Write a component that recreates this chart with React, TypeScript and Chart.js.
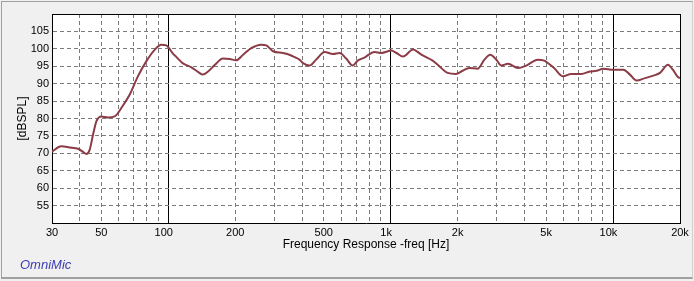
import React, { useEffect, useRef } from 'react';
import { Chart, registerables } from 'chart.js';

Chart.register(...registerables);

// Frequency response data
const freqHz = [
  30, 33, 36, 39.3, 41.4, 42.8, 44.3, 45.9, 47.5, 50, 53.6, 57.4, 61.5, 67, 73, 79.6, 86.8, 93, 98,
  101, 105, 108.6, 116, 127, 136, 143, 151, 162, 176, 189, 202, 217, 236, 262, 276, 296, 328, 357,
  370, 389, 404, 432, 462, 505, 550, 590, 631, 675, 711, 762, 846, 909, 1008, 1062, 1137, 1261,
  1350, 1395, 1545, 1655, 1803, 1965, 2106, 2256, 2460, 2640, 2805, 2985, 3144, 3369, 3735, 4068,
  4590, 4908, 5070, 5430, 5955, 6480, 7200, 7860, 8430, 9024, 10020, 11130, 11910, 12750, 13920,
  15180, 16260, 17640, 18570, 19560, 20000,
];
const splDb = [
  70.5, 72.0, 71.7, 71.3, 70.4, 69.8, 71.0, 75.4, 79.2, 80.6, 80.3, 80.6, 83.0, 86.8, 92.1, 96.4,
  99.7, 101.2, 101.0, 100.1, 98.6, 97.7, 95.9, 94.7, 93.4, 92.6, 93.5, 95.4, 97.2, 97.1, 96.7, 98.3,
  100.2, 101.2, 101.0, 99.3, 98.8, 98.1, 97.6, 96.9, 95.9, 95.2, 96.9, 99.1, 98.5, 98.8, 97.2, 95.2,
  96.6, 97.5, 99.1, 98.8, 99.5, 98.8, 97.8, 99.8, 98.7, 98.1, 96.6, 95.0, 93.1, 92.8, 93.7, 94.5,
  94.3, 96.9, 98.3, 96.9, 95.2, 95.7, 94.5, 95.2, 96.9, 96.6, 96.0, 94.5, 92.1, 92.8, 92.8, 93.5,
  93.7, 94.3, 94.0, 94.0, 92.6, 90.9, 91.6, 92.3, 93.1, 95.4, 94.0, 91.9, 91.6,
];

// Axis ticks
const xMin = 30;
const xMax = 20000;
const xGridFreqs = [
  30, 40, 50, 60, 70, 80, 90, 100, 200, 300, 400, 500, 600, 700, 800, 900, 1000, 2000, 3000, 4000,
  5000, 6000, 7000, 8000, 9000, 10000, 20000,
];
const decadeFreqs = [100, 1000, 10000];
const labeledFreqs = [30, 50, 100, 200, 500, 1000, 2000, 5000, 10000, 20000];
const labeledTexts = ['30', '50', '100   ', '200', '500', '1k   ', '2k', '5k', '10k   ', '20k'];
const yMin = 50;
const yMax = 110;
const yStep = 5;

const areaBg = {
  id: 'areaBg',
  beforeDraw(chart: any) {
    const { ctx, chartArea } = chart;
    ctx.save();
    ctx.fillStyle = '#ffffff';
    ctx.fillRect(chartArea.left, chartArea.top, chartArea.width, chartArea.height);
    ctx.restore();
  },
};

const DASH = [4, 3];
const GRID_GRAY = '#7a7a7a';
const CLEAR = 'rgba(0,0,0,0)';

export default function App() {
  const canvasRef = useRef<HTMLCanvasElement | null>(null);

  useEffect(() => {
    document.body.style.margin = '0';
    const canvas = canvasRef.current;
    if (!canvas) return;
    Chart.defaults.font.family = '"Liberation Sans", Arial, sans-serif';
    Chart.defaults.color = '#000000';

    const points = freqHz.map((f, i) => ({ x: f, y: splDb[i] }));

    const chart = new Chart(canvas, {
      type: 'line',
      data: {
        datasets: [
          {
            data: points,
            borderColor: '#8b3c46',
            borderWidth: 2,
            pointRadius: 0,
            cubicInterpolationMode: 'monotone',
            fill: false,
          },
        ],
      },
      plugins: [areaBg],
      options: {
        responsive: false,
        animation: false,
        events: [],
        layout: { padding: { left: 15, top: 14, right: 14, bottom: 29 } },
        plugins: { legend: { display: false }, tooltip: { enabled: false } },
        scales: {
          x: {
            type: 'logarithmic',
            position: 'bottom',
            min: xMin,
            max: xMax,
            afterBuildTicks: (scale: any) => {
              scale.ticks = xGridFreqs.map((v) => ({ value: v }));
            },
            afterFit: (scale: any) => {
              scale.height = 29;
            },
            ticks: {
              autoSkip: false,
              maxRotation: 0,
              padding: 3,
              font: { size: 11 },
              color: '#000',
              callback: (value: any) => {
                const idx = labeledFreqs.indexOf(Number(value));
                return idx >= 0 ? labeledTexts[idx] : '';
              },
            },
            grid: {
              drawTicks: false,
              lineWidth: 1,
              color: (c: any) => {
                const v = c.tick ? c.tick.value : 0;
                if (v === xMin || v === xMax || decadeFreqs.includes(v)) return CLEAR;
                return GRID_GRAY;
              },
            },
            border: { display: true, color: '#000', width: 1, dash: DASH },
            title: {
              display: true,
              text: 'Frequency Response -freq [Hz]',
              font: { size: 12 },
              color: '#000',
              padding: 0,
            },
          },
          x2: {
            type: 'logarithmic',
            axis: 'x',
            position: 'top',
            min: xMin,
            max: xMax,
            afterBuildTicks: (scale: any) => {
              scale.ticks = decadeFreqs.map((v) => ({ value: v }));
            },
            afterFit: (scale: any) => {
              scale.height = 0;
            },
            ticks: { display: false },
            grid: { drawTicks: false, color: '#000', lineWidth: 1 },
            border: { display: true, color: '#000', width: 1 },
          },
          y: {
            type: 'linear',
            position: 'left',
            min: yMin,
            max: yMax,
            afterFit: (scale: any) => {
              scale.width = 37;
            },
            ticks: {
              stepSize: yStep,
              padding: 3,
              font: { size: 11 },
              color: '#000',
              callback: (value: any) => {
                const v = Number(value);
                return v === yMin || v === yMax ? '' : String(v);
              },
            },
            grid: {
              drawTicks: false,
              lineWidth: 1,
              color: (c: any) => {
                const v = c.tick ? c.tick.value : 0;
                return v === yMin || v === yMax ? CLEAR : GRID_GRAY;
              },
            },
            border: { display: true, color: '#000', width: 1, dash: DASH },
            title: {
              display: true,
              text: '[dBSPL]',
              font: { size: 12 },
              color: '#000',
              padding: 0,
            },
          },
          y2: {
            type: 'linear',
            axis: 'y',
            position: 'right',
            min: yMin,
            max: yMax,
            afterFit: (scale: any) => {
              scale.width = 0;
            },
            ticks: { display: false },
            grid: { display: false, drawTicks: false },
            border: { display: true, color: '#000', width: 1 },
          },
        },
      } as any,
    });

    return () => {
      chart.destroy();
    };
  }, []);

  return (
    <div
      style={{
        position: 'relative',
        width: 694,
        height: 281,
        background: '#f0f0f0',
        overflow: 'hidden',
      }}
    >
      <div
        style={{
          position: 'absolute',
          left: 1,
          top: 1,
          width: 690,
          height: 275,
          borderTop: '1px solid #a0a0a0',
          borderLeft: '1px solid #a0a0a0',
          borderRight: '1px solid #d0d0d0',
          borderBottom: '2px solid #a0a0a0',
        }}
      />
      <canvas
        ref={canvasRef}
        width={694}
        height={281}
        style={{ position: 'absolute', left: 0, top: 0, width: 694, height: 281 }}
      />
      <div
        style={{
          position: 'absolute',
          left: 20,
          top: 257,
          fontFamily: '"Liberation Sans", Arial, sans-serif',
          fontStyle: 'italic',
          fontSize: 13,
          lineHeight: '15px',
          color: '#3c3cb4',
          whiteSpace: 'nowrap',
        }}
      >
        OmniMic
      </div>
    </div>
  );
}
